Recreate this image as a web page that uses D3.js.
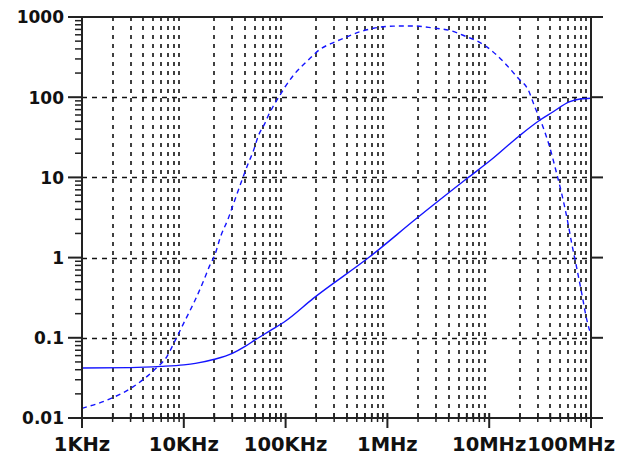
<!DOCTYPE html>
<html>
<head>
<meta charset="utf-8">
<script src="https://cdn.jsdelivr.net/npm/d3@7"></script>
<style>
  body { margin: 0; background: #fff; }
  svg { display: block; }
  .lbl { font-family: "DejaVu Sans", sans-serif; font-weight: bold; fill: #111; }
</style>
</head>
<body>
<div id="chart"></div>
<script>
// Achsen
const xTickWerte = [1e3, 1e4, 1e5, 1e6, 1e7, 1e8];
const xTickLabels = ["1KHz", "10KHz", "100KHz", "1MHz", "10MHz", "100MHz"];
const yTickWerte = [0.01, 0.1, 1, 10, 100, 1000];
const yTickLabels = ["0.01", "0.1", "1", "10", "100", "1000"];

// durchgezogene Kurve
const freqSolid = [1e3, 3e3, 6e3, 1e4, 1.3e4, 2e4, 3e4, 4e4, 5e4, 7e4, 1e5, 1.87e5,
  6.75e5, 1.94e6, 6e6, 1.06e7, 1.93e7, 3.16e7, 4.1e7, 6.2e7, 7.8e7, 1e8];
const valSolid = [0.042, 0.0425, 0.044, 0.046, 0.048, 0.054, 0.064, 0.078, 0.094, 0.122, 0.162, 0.31,
  1.03, 3.09, 9.6, 16.8, 32.2, 52, 64, 88, 95, 97];

// gestrichelte Kurve
const freqDashed = [1e3, 2e3, 3.2e3, 5.2e3, 6.8e3, 8.2e3, 1.03e4, 1.3e4, 1.55e4, 1.8e4, 2.03e4, 2.27e4,
  2.74e4, 3.06e4, 3.7e4, 4.3e4, 4.8e4, 5.4e4, 6.3e4, 6.8e4, 7.6e4, 8.8e4, 9.9e4, 1.2e5, 1.67e5,
  2.18e5, 2.83e5, 3.7e5, 5.4e5, 7.3e5, 1.14e6, 1.8e6, 2.8e6, 4.1e6, 6e6, 7.5e6, 9.4e6, 1.38e7,
  1.93e7, 2.42e7, 2.8e7, 3.28e7, 3.85e7, 4.6e7, 5.15e7, 5.86e7, 6.46e7, 7.2e7, 8.1e7, 9.1e7, 1e8];
const valDashed = [0.0132, 0.0179, 0.0246, 0.0405, 0.058, 0.092, 0.165, 0.3, 0.5, 0.8, 1.1, 1.75,
  3.1, 4.6, 9, 15, 21, 33, 48, 60, 78, 106, 135, 189, 291,
  396, 470, 542, 656, 723, 770, 773, 730, 680, 568, 506, 427, 277,
  172, 123, 76, 47, 26, 11.2, 6.3, 2.94, 1.51, 0.77, 0.36, 0.167, 0.108];

const breite = 627, hoehe = 459;
const links = 82, rechts = 591, oben = 17, unten = 418;

const svg = d3.select("#chart").append("svg")
  .attr("width", breite)
  .attr("height", hoehe);

const x = d3.scaleLog().domain([1e3, 1e8]).range([links, rechts]);
const y = d3.scaleLog().domain([0.01, 1000]).range([unten, oben]);

const istDekade = v => Math.abs(Math.log10(v) - Math.round(Math.log10(v))) < 1e-9;
const xMinor = x.ticks().filter(v => !istDekade(v));
const yMinor = y.ticks().filter(v => !istDekade(v));

// Gitter
const grid = svg.append("g").attr("stroke", "#111").attr("fill", "none");
grid.selectAll(".vgrid").data(xMinor).enter().append("line")
  .attr("x1", d => Math.round(x(d))).attr("x2", d => Math.round(x(d)))
  .attr("y1", oben).attr("y2", unten)
  .attr("stroke-width", 1.6)
  .attr("stroke-dasharray", "4,5");
grid.selectAll(".hgrid").data(yTickWerte.slice(1, -1)).enter().append("line")
  .attr("y1", d => Math.round(y(d)) + 0.5).attr("y2", d => Math.round(y(d)) + 0.5)
  .attr("x1", links).attr("x2", rechts)
  .attr("stroke-width", 1.3)
  .attr("stroke-dasharray", "5,5");

// Kurven
const linie = d3.line()
  .x(d => x(d[0]))
  .y(d => y(d[1]))
  .curve(d3.curveMonotoneX);

svg.append("path")
  .datum(d3.zip(freqSolid, valSolid))
  .attr("d", linie)
  .attr("fill", "none")
  .attr("stroke", "#1414ff")
  .attr("stroke-width", 1.4);

svg.append("path")
  .datum(d3.zip(freqDashed, valDashed))
  .attr("d", linie)
  .attr("fill", "none")
  .attr("stroke", "#1414ff")
  .attr("stroke-width", 1.4)
  .attr("stroke-dasharray", "5,4");

// Rahmen und Ticks
const achse = svg.append("g").attr("stroke", "#222").attr("stroke-width", 2).attr("fill", "none");
achse.append("line").attr("x1", links).attr("x2", links).attr("y1", oben).attr("y2", unten + 10);
achse.append("line").attr("x1", rechts).attr("x2", rechts).attr("y1", oben).attr("y2", unten + 7);
achse.append("line").attr("x1", links - 14).attr("x2", rechts + 12).attr("y1", oben).attr("y2", oben);
achse.append("line").attr("x1", links - 14).attr("x2", rechts + 12).attr("y1", unten).attr("y2", unten);

// y-Achse links / rechts
achse.selectAll(".yMajL").data(yTickWerte).enter().append("line")
  .attr("x1", links - 14).attr("x2", links)
  .attr("y1", d => y(d)).attr("y2", d => y(d));
achse.selectAll(".yMajR").data(yTickWerte).enter().append("line")
  .attr("x1", rechts).attr("x2", rechts + 12)
  .attr("y1", d => y(d)).attr("y2", d => y(d));
achse.selectAll(".yMin").data(yMinor).enter().append("line")
  .attr("x1", links - 7).attr("x2", links)
  .attr("y1", d => y(d)).attr("y2", d => y(d))
  .attr("stroke-width", 1.5);

// x-Achse unten
achse.selectAll(".xMaj").data(xTickWerte).enter().append("line")
  .attr("x1", d => x(d)).attr("x2", d => x(d))
  .attr("y1", unten - 5).attr("y2", unten + 10);
achse.selectAll(".xMin").data(xMinor).enter().append("line")
  .attr("x1", d => x(d)).attr("x2", d => x(d))
  .attr("y1", unten - 5).attr("y2", unten + 4)
  .attr("stroke-width", 1.5);

// Beschriftung
svg.selectAll(".yLbl").data(yTickWerte).enter().append("text")
  .attr("class", "lbl")
  .attr("x", links - 18)
  .attr("y", d => y(d) + 6.3)
  .attr("text-anchor", "end")
  .style("font-size", "17px")
  .text((d, i) => yTickLabels[i]);

const xLbl = svg.selectAll(".xLbl").data(xTickWerte).enter().append("text")
  .attr("class", "lbl")
  .attr("x", d => x(d))
  .attr("y", 450.5)
  .attr("text-anchor", "middle")
  .style("font-size", "19.5px")
  .text((d, i) => xTickLabels[i]);

// letzte Beschriftung passt nicht mittig ins Bild
xLbl.each(function () {
  const w = this.getComputedTextLength();
  const cx = +this.getAttribute("x");
  if (cx + w / 2 > breite - 12) {
    this.setAttribute("text-anchor", "end");
    this.setAttribute("x", breite - 12);
  }
});
</script>
</body>
</html>
